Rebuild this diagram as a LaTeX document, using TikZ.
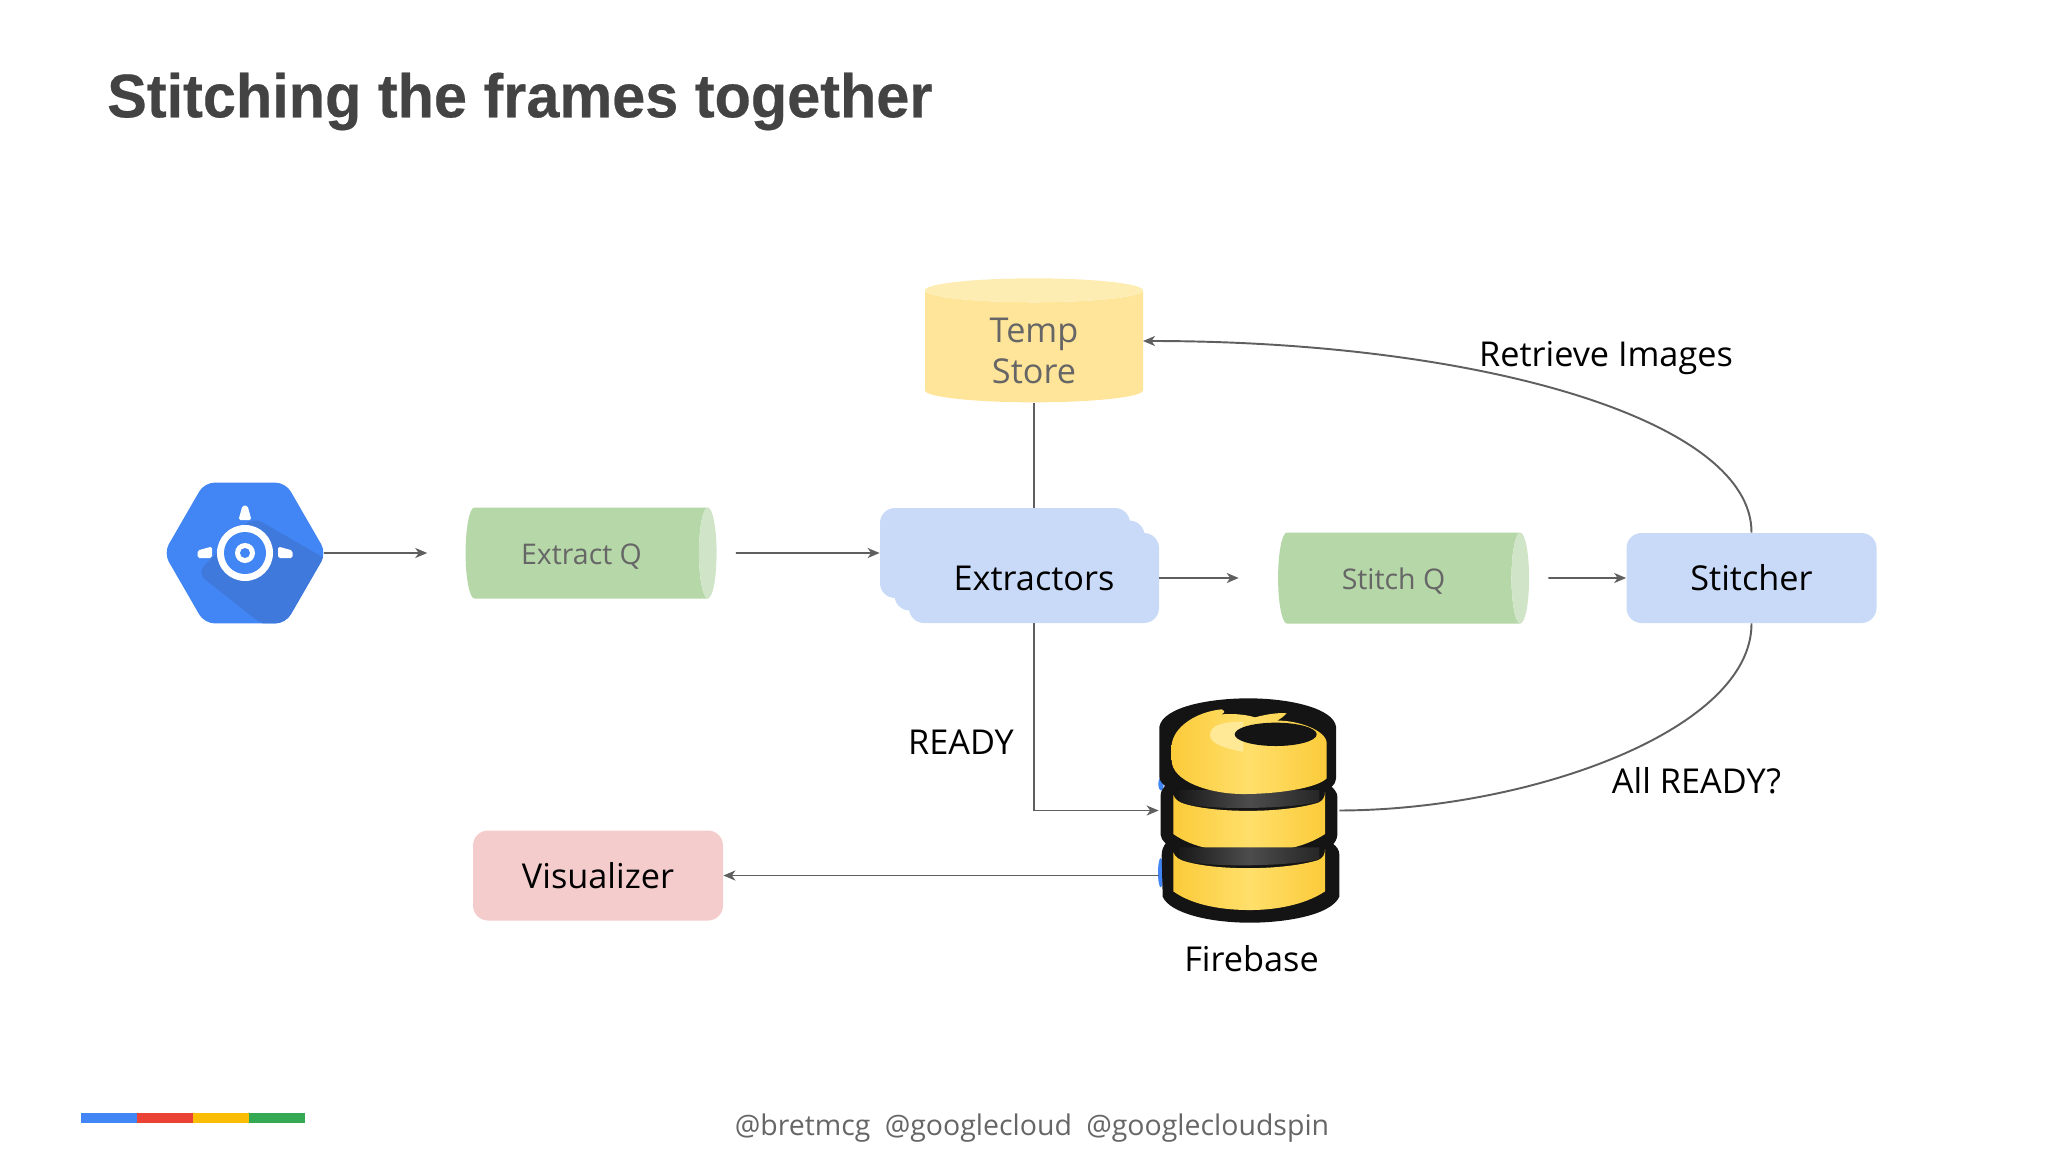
\documentclass[tikz,border=0pt]{standalone}
\usepackage{fontspec}
\setmainfont{Open Sans}
\newfontfamily\titlefont[FakeStretch=0.966,BoldFeatures={FakeBold=0.4}]{Liberation Sans}
\usetikzlibrary{shapes.geometric, arrows, arrows.meta}
\definecolor{itemblue}{HTML}{C9DAF8}
\definecolor{itemgreen}{HTML}{B6D7A8}
\definecolor{endgreen}{HTML}{D0E5C8}
\definecolor{itemyellow}{HTML}{FFE599}
\definecolor{endyellow}{HTML}{FDEDB3}
\definecolor{itemred}{HTML}{F4CCCC}
\definecolor{linegray}{HTML}{5F5F5F}
\definecolor{textgray}{HTML}{666666}
\definecolor{titlegray}{HTML}{434343}
\definecolor{appblue}{HTML}{4285F4}
\definecolor{appshade}{HTML}{3F79DC}
\definecolor{fbyellow}{HTML}{FFDF6B}
\definecolor{fbdeep}{HTML}{FBCB3A}
\definecolor{barred}{HTML}{EA4335}
\definecolor{baryellow}{HTML}{FBBC04}
\definecolor{bargreen}{HTML}{34A853}
\tikzstyle{item} = [rectangle, rounded corners=0.3cm, minimum width=5cm, minimum height=1.8cm, text centered, fill=itemblue, font=\fontsize{19.5}{23}\selectfont]
\tikzstyle{queue} = [cylinder, shape aspect=0.55, cylinder uses custom fill, cylinder body fill=itemgreen, cylinder end fill=endgreen, minimum width=1.82cm, minimum height=5.02cm, inner sep=0pt, text=textgray, text height=15.5pt, font=\fontsize{16.2}{20}\selectfont]
\tikzstyle{store} = [cylinder, shape border rotate=90, shape aspect=0.27, cylinder uses custom fill, cylinder body fill=itemyellow, cylinder end fill=endyellow, minimum width=4.36cm, minimum height=2.48cm, inner sep=0pt, align=center, text=textgray, font=\fontsize{19.5}{23}\selectfont]
\tikzstyle{label} = [font=\fontsize{19.5}{23}\selectfont]
\tikzstyle{arrow} = [line width=1.1pt, draw=linegray, ->, >={Stealth[length=0.24cm, width=0.2cm, inset=0.07cm]}]
\tikzstyle{link} = [line width=1.1pt, draw=linegray]
\begin{document}
\begin{tikzpicture}[node distance=5cm]
\useasboundingbox (0,0) rectangle (40.96,-23.04);
\node(title)[anchor=west, text=titlegray, font=\titlefont\bfseries\fontsize{35}{42}\selectfont] at (2.02,-2.03) {Stitching the frames together};

% app engine hexagon
\node(app)[regular polygon, regular polygon sides=6, minimum size=3.25cm, inner sep=0pt, rounded corners=0.2cm, fill=appblue, path picture={
  \fill[appshade] (0.16,0.72) -- (2,-0.34) -- (2,-2) -- (0.3,-1.4) -- (-0.96,-0.4) -- cycle;
  \fill[white] (0,0) circle (0.56);
  \fill[appblue] (0,0) circle (0.42);
  \fill[white] (0,0) circle (0.2);
  \fill[appblue] (0,0) circle (0.1);
  \fill[white, rounded corners=1pt] (-0.13,0.66) -- (-0.05,0.95) -- (0.05,0.95) -- (0.13,0.66) -- cycle;
  \fill[white, rounded corners=1pt] (-0.66,0.13) -- (-0.95,0.05) -- (-0.95,-0.1) -- (-0.66,-0.1) -- cycle;
  \fill[white, rounded corners=1pt] (0.66,0.13) -- (0.95,0.05) -- (0.95,-0.1) -- (0.66,-0.1) -- cycle;
}] at (4.9,-11.06) {};

\node(extractq)[queue, right of=app, xshift=1.83cm]{Extract Q\kern0.2cm};
\node(extractback)[item, right of=extractq, xshift=3.37cm]{};
\node(extractmid)[item, xshift=0.29cm, yshift=-0.25cm] at (extractback) {};
\node(extractors)[item, xshift=0.29cm, yshift=-0.25cm] at (extractmid) {Extractors};
\node(tempstore)[store, above of=extractors, yshift=-0.37cm]{\rule{0pt}{19pt}Temp\\Store};
\node(stitchq)[queue, right of=extractors, xshift=2.3cm]{Stitch Q\kern0.22cm};
\node(stitcher)[item, right of=stitchq, xshift=2.05cm]{Stitcher};
\node(firebase)[rectangle, minimum width=3.6cm, minimum height=4.5cm, inner sep=0pt, below of=extractors, xshift=4.3cm, yshift=0.35cm]{};
\node(fblabel)[label, below of=firebase, yshift=2.03cm, xshift=0.05cm]{Firebase};
\node(visualizer)[item, fill=itemred, below of=extractq, xshift=0.23cm, yshift=-1.45cm]{Visualizer};
\coordinate(storeport) at (22.86,-6.82);

% firebase icon
\begin{scope}[shift={(22.6,-13.6)}, x=0.00667cm, y=-0.00667cm]
\fill[appblue] (93,312) ellipse (8 and 20);
\fill[appblue] (92,578) ellipse (8 and 44);
\fill[black!92] (88,140) .. controls (100,80) and (240,55) .. (355,55) .. controls (480,55) and (610,85) .. (618,140) -- (618,295) .. controls (615,310) and (612,315) .. (605,320) .. controls (615,330) and (622,340) .. (622,350) -- (622,465) .. controls (620,480) and (615,485) .. (610,492) .. controls (620,500) and (628,510) .. (628,525) -- (628,650) .. controls (600,710) and (450,728) .. (360,728) .. controls (240,728) and (120,700) .. (98,650) -- (95,525) .. controls (95,510) and (100,500) .. (107,490) .. controls (98,480) and (92,475) .. (92,465) -- (92,345) .. controls (92,335) and (98,325) .. (105,317) .. controls (95,310) and (88,300) .. (88,290) -- cycle;
\foreach \dy in {0,172}{
  \begin{scope}[yshift=-\dy*0.00667cm]
  \shade[left color=black!90, right color=black!85, middle color=black!70] (148,330) -- (568,330) -- (568,365) .. controls (500,385) and (220,395) .. (148,365) -- cycle;
  \shade[left color=fbdeep, right color=fbdeep, middle color=fbyellow] (130,345) .. controls (135,360) and (150,368) .. (165,372) .. controls (260,400) and (460,400) .. (565,368) .. controls (578,362) and (585,352) .. (585,335) -- (585,462) .. controls (520,505) and (430,518) .. (360,518) .. controls (280,518) and (190,505) .. (130,462) -- cycle;
  \end{scope}
}
\shade[left color=fbdeep, right color=fbdeep, middle color=fbyellow] (125,195) .. controls (130,140) and (200,95) .. (275,88) .. controls (290,95) and (280,100) .. (275,103) .. controls (320,100) and (350,105) .. (375,112) .. controls (420,100) and (450,98) .. (470,100) .. controls (460,110) and (450,118) .. (440,122) .. controls (500,120) and (590,150) .. (590,190) -- (590,295) .. controls (560,325) and (440,342) .. (340,342) .. controls (240,342) and (125,305) .. (125,240) -- cycle;
\fill[fbyellow!70!white] (240,165) .. controls (240,135) and (280,125) .. (340,125) -- (340,215) .. controls (280,205) and (240,190) .. (240,165) -- cycle;
\fill[black!92] (437,163) ellipse (123 and 35);
\end{scope}

% connectors
\draw[arrow, shorten <=-0.06cm, shorten >=0.76cm] (app) -- (extractq);
\draw[arrow, shorten <=0.38cm] (extractq) -- (extractback);
\draw[arrow, shorten >=0.78cm] (extractors) -- (stitchq);
\draw[arrow, shorten <=0.38cm] (stitchq) -- (stitcher);
\draw[link] (tempstore.south) -- (tempstore.south |- extractback.north);
\draw[arrow] (extractors.south) |- (firebase.west);
\draw[arrow] (firebase.west |- visualizer.east) -- (visualizer.east);
\draw[arrow] (stitcher.north) .. controls (35.04,-8.4) and (29.6,-6.82) .. (storeport);
\draw[link] (stitcher.south) .. controls (35.04,-14.6) and (30.6,-16.2) .. (firebase.east);

\node(retrieve)[label] at (32.12,-7.16) {Retrieve Images};
\node(ready)[label] at (19.22,-14.85) {READY};
\node(allready)[label] at (33.93,-15.62) {All READY?};

% footer
\foreach \c/\x in {appblue/1.62, barred/2.74, baryellow/3.86, bargreen/4.98}{
  \fill[\c] (\x,-22.26) rectangle ++(1.12,-0.2);
}
\node(footer)[text=textgray, font=\fontsize{16.2}{20}\selectfont] at (20.64,-22.57) {@bretmcg\hspace{0.5em}@googlecloud\hspace{0.5em}@googlecloudspin};
\end{tikzpicture}
\end{document}
